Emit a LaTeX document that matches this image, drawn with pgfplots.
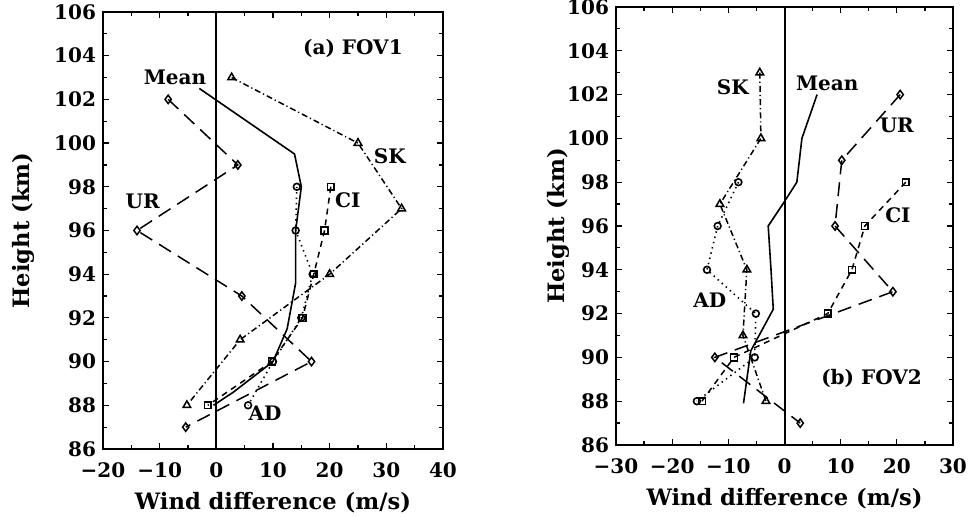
\documentclass[border=0pt]{standalone}
\usepackage{fontspec}
\setmainfont{DejaVu Serif}
\usepackage{pgfplots}
\pgfplotsset{compat=1.18}

\pgfplotsset{
  fov/.style={
    scale only axis,
    ymin=86, ymax=106,
    ytick={86,88,...,106},
    minor x tick num=1, minor y tick num=1,
    tick align=inside,
    major tick length=3pt, minor tick length=2pt,
    axis line style={line width=1pt},
    every tick/.style={black, line width=0.6pt},
    tick label style={font=\bfseries\fontsize{10}{12}\selectfont},
    xticklabel style={yshift=-3.5pt},
    label style={font=\bfseries\fontsize{11.3}{13}\selectfont},
    /pgf/number format/assume math mode=true,
    xlabel={Wind difference (m/s)},
    ylabel={Height (km)},
    xlabel style={at={(axis description cs:0.5,-0.123)}, anchor=center},
  },
  ur/.style={black, line width=0.75pt, dash pattern=on 7pt off 4pt,
    mark=diamond, mark size=2.1pt, mark options={solid, fill=white}},
  sk/.style={black, line width=0.75pt, dash pattern=on 3pt off 1.5pt on 0.6pt off 1.5pt,
    mark=triangle, mark size=2.2pt, mark options={solid, fill=white}},
  ci/.style={black, line width=0.75pt, dash pattern=on 3pt off 2.5pt,
    mark=square, mark size=1.7pt, mark options={solid, fill=white}},
  ad/.style={black, line width=0.8pt, dash pattern=on 0.7pt off 2pt,
    mark=o, mark size=1.7pt, mark options={solid, fill=white}},
  mn/.style={black, line width=0.8pt, no marks},
}

\begin{document}
\begin{tikzpicture}
\path[use as bounding box] (0,0) rectangle (485pt,258.5pt);

% (a) FOV1
\begin{axis}[fov, at={(51.5pt,34pt)}, anchor=south west,
  width=170pt, height=218.5pt,
  xmin=-20, xmax=40, xtick={-20,-10,...,40},
  xticklabels={−20,−10,0,10,20,30,40},
  ylabel style={at={(axis description cs:-0.235,0.5)}, anchor=center}]
\addplot[black, line width=1pt, forget plot] coordinates {(0,86) (0,106)};
\addplot[mn] coordinates {(-3,102.5) (13.8,99.5) (15,98) (14,96) (14,93.6) (12.5,91.5) (10,90) (3,88.6) (-0.5,88)};
\addplot[ur] coordinates {(-8.5,102) (3.8,99) (-14,96) (4.5,93) (16.8,90) (-5.4,87)};
\addplot[sk] coordinates {(2.7,103) (25,100) (32.7,97) (20,94) (4.2,91) (-5.2,88)};
\addplot[ci] coordinates {(20.2,98) (19.1,96) (17.2,94) (15.2,92) (9.8,90) (-1.5,88)};
\addplot[ad] coordinates {(14.2,98) (14,96) (17,94) (15,92) (10,90) (5.6,88)};
\node[font=\bfseries] at (axis cs:24.1,104.35) {(a) FOV1};
\node[font=\bfseries] at (axis cs:-7.3,103.0) {Mean};
\node[font=\bfseries] at (axis cs:30.6,99.4) {SK};
\node[font=\bfseries] at (axis cs:23.2,97.4) {CI};
\node[font=\bfseries] at (axis cs:-13,97.35) {UR};
\node[font=\bfseries] at (axis cs:8.6,87.65) {AD};
\end{axis}

% (b) FOV2
\begin{axis}[fov, at={(308pt,36pt)}, anchor=south west,
  width=168.5pt, height=219pt,
  xmin=-30, xmax=30, xtick={-30,-20,...,30},
  xticklabels={−30,−20,−10,0,10,20,30},
  ylabel style={at={(axis description cs:-0.172,0.5)}, anchor=center}]
\addplot[black, line width=1pt, forget plot] coordinates {(0,86) (0,106)};
\addplot[mn] coordinates {(5.8,102) (3.1,100) (2.2,98) (-0.3,97) (-2.9,96) (-2.4,94) (-2,92.2) (-6,90.3) (-7.3,87.9)};
\addplot[ur] coordinates {(20.6,102) (10.2,99) (9,96) (19.3,93) (-12.4,90) (2.8,87)};
\addplot[sk] coordinates {(-4.4,103) (-4.2,100) (-11.5,97) (-6.7,94) (-7.4,91) (-3.3,88)};
\addplot[ci] coordinates {(21.6,98) (14.3,96) (12,94) (7.7,92) (-9,90) (-14.7,88)};
\addplot[ad] coordinates {(-8.2,98) (-11.9,96) (-13.8,94) (-5.1,92) (-5.3,90) (-15.6,88)};
\node[font=\bfseries] at (axis cs:-9.2,102.35) {SK};
\node[font=\bfseries] at (axis cs:7.6,102.5) {Mean};
\node[font=\bfseries] at (axis cs:20,100.6) {UR};
\node[font=\bfseries] at (axis cs:20.2,96.5) {CI};
\node[font=\bfseries] at (axis cs:-13.3,92.6) {AD};
\node[font=\bfseries] at (axis cs:15.5,89.05) {(b) FOV2};
\end{axis}
\end{tikzpicture}
\end{document}
